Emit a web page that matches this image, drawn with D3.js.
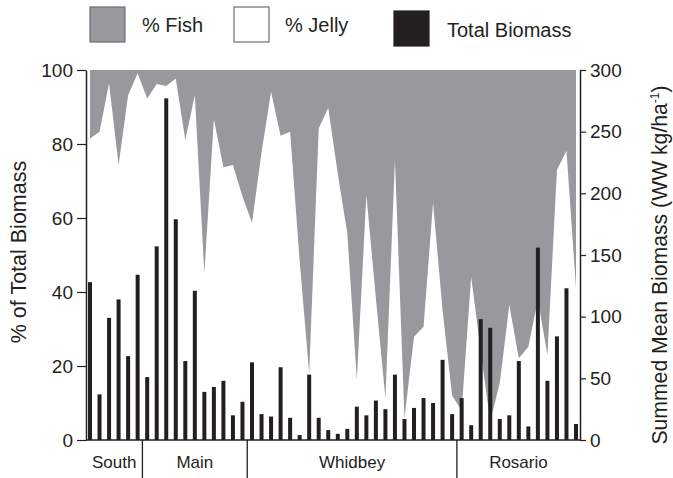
<!DOCTYPE html>
<html><head><meta charset="utf-8">
<script src="https://cdn.jsdelivr.net/npm/d3@7"></script>
<style>
body{margin:0;background:#fff;}
svg{display:block;font-family:"Liberation Sans",Arial,Helvetica,sans-serif;}
</style></head><body>
<svg id="chart" width="673" height="478"></svg>
<script>
// ---- data ----
const regions = ["South", "Main", "Whidbey", "Rosario"];
const regionCounts = [6, 11, 22, 13];
// Summed mean biomass (WW kg/ha^-1), right axis
const totalBiomass = [128, 37, 99, 114, 68, 134,
  51, 157, 277, 179, 64, 121, 39, 43, 48, 20, 31,
  63, 21, 19, 59, 18, 4, 53, 18, 8, 5, 9, 27, 20, 32, 25, 53, 17, 26, 34, 30, 65, 21,
  34, 12, 98, 91, 17, 20, 64, 11, 156, 48, 84, 123, 13];
// % Jelly of total biomass (remainder is % Fish)
const pctJelly = [81.5, 83.3, 96.4, 74.3, 93.2, 99.1,
  92.3, 96.2, 95.7, 97.7, 81.1, 93.2, 45, 86.7, 73.7, 74.3, 65.8,
  58.7, 77.7, 94.1, 82.2, 83.3, 48.5, 18, 84.2, 89.8, 72, 55.9, 16.2, 66.2, 38.3, 11.3, 75.7, 5.9, 27.9, 30.6, 64.1, 35, 12,
  8, 44.1, 24, 5, 15.4, 36.5, 22.1, 25.2, 38, 23, 73, 78.2, 41];
const pctTicks = [0, 20, 40, 60, 80, 100];
const biomassTicks = [0, 50, 100, 150, 200, 250, 300];
const legendLabels = ["% Fish", "% Jelly", "Total Biomass"];

(function () {
// ---- layout ----
const W = 673, H = 478;
const pL = 86, pR = 580, pT = 70, pB = 440;
const ink = "#231f20", fishCol = "#97999c";
const svg = d3.select("#chart");
const n = totalBiomass.length;
const idx = d3.range(n);

const x = d3.scalePoint().domain(idx).range([90, 576]);
const yPct = d3.scaleLinear().domain([0, 100]).range([pB, pT]);
const yBio = d3.scaleLinear().domain([0, 300]).range([pB, pT]);

// fish area (from top down to jelly boundary)
const area = d3.area()
  .x(i => x(i))
  .y0(yPct(100))
  .y1(i => yPct(pctJelly[i]));
svg.append("path").datum(idx).attr("d", area).attr("fill", fishCol);

// bars
svg.append("g").selectAll("rect").data(idx).join("rect")
  .attr("x", i => x(i) - 2)
  .attr("width", 4)
  .attr("y", i => yBio(totalBiomass[i]))
  .attr("height", i => pB - yBio(totalBiomass[i]))
  .attr("fill", ink);

// axes
const la = svg.append("g").attr("transform", `translate(${pL},0)`)
  .call(d3.axisLeft(yPct).tickValues(pctTicks).tickSize(9).tickSizeOuter(0).tickPadding(4));
const ra = svg.append("g").attr("transform", `translate(${pR},0)`)
  .call(d3.axisRight(yBio).tickValues(biomassTicks).tickSize(6).tickSizeOuter(0).tickPadding(4));
[la, ra].forEach(g => {
  g.selectAll("path.domain").attr("stroke", ink).attr("stroke-width", 1.5);
  g.selectAll(".tick line").attr("stroke", ink).attr("stroke-width", 1.2);
  g.selectAll(".tick text").attr("fill", ink).attr("font-size", 19)
    .attr("font-family", "Liberation Sans, Arial, sans-serif");
});
// baseline
svg.append("line").attr("x1", pL).attr("x2", pR).attr("y1", pB).attr("y2", pB)
  .attr("stroke", ink).attr("stroke-width", 1.5);

// region strip
let start = 0;
const groups = regionCounts.map((c, k) => {
  const g = {name: regions[k], first: start, last: start + c - 1};
  start += c;
  return g;
});
groups.forEach((g, k) => {
  const x0 = k === 0 ? pL : (x(g.first) + x(g.first - 1)) / 2;
  const x1 = k === groups.length - 1 ? pR : (x(g.last) + x(g.last + 1)) / 2;
  if (k > 0) {
    svg.append("line").attr("x1", x0).attr("x2", x0).attr("y1", pB).attr("y2", H)
      .attr("stroke", ink).attr("stroke-width", 1.3);
  }
  svg.append("text").attr("x", (x0 + x1) / 2).attr("y", 468)
    .attr("text-anchor", "middle").attr("font-size", 17).attr("fill", ink).text(g.name);
});

// axis titles
svg.append("text").attr("transform", `translate(26,252) rotate(-90)`)
  .attr("text-anchor", "middle").attr("font-size", 21.5).attr("fill", ink)
  .text("% of Total Biomass");
const rt = svg.append("text").attr("transform", `translate(667,265) rotate(-90)`)
  .attr("text-anchor", "middle").attr("font-size", 21.2).attr("fill", ink);
rt.append("tspan").text("Summed Mean Biomass (WW kg/ha");
rt.append("tspan").attr("font-size", 12).attr("dy", -8).text("-1");
rt.append("tspan").attr("dy", 8).text(")");

// legend
const legendItems = [
  {label: legendLabels[0], fill: fishCol, stroke: "#6d6e71", sx: 90, sy: 7, tx: 142, ty: 32},
  {label: legendLabels[1], fill: "#fff", stroke: "#6d6e71", sx: 234, sy: 7, tx: 285, ty: 32},
  {label: legendLabels[2], fill: ink, stroke: ink, sx: 394, sy: 11, tx: 447, ty: 37}
];
legendItems.forEach(d => {
  svg.append("rect").attr("x", d.sx).attr("y", d.sy).attr("width", 35).attr("height", 35)
    .attr("fill", d.fill).attr("stroke", d.stroke).attr("stroke-width", 1.2);
  svg.append("text").attr("x", d.tx).attr("y", d.ty).attr("font-size", 20)
    .attr("fill", ink).text(d.label);
});
})();
</script>
</body></html>
